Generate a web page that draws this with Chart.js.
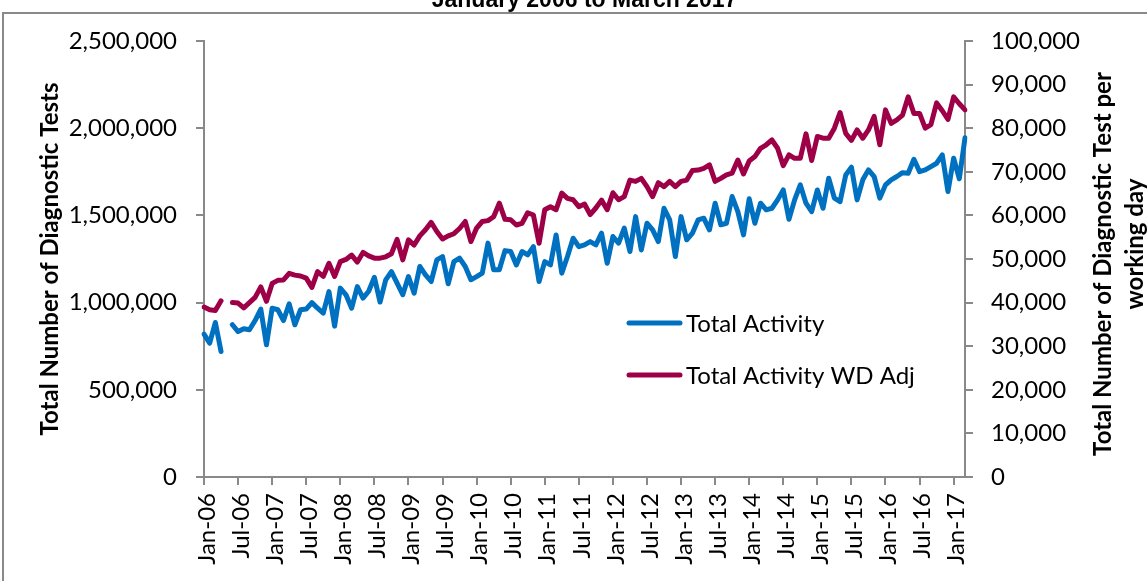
<!DOCTYPE html>
<html>
<head>
<meta charset="utf-8">
<script src="https://cdn.jsdelivr.net/npm/chart.js@4.4.1/dist/chart.umd.min.js"></script>
<style>
  html, body { margin: 0; padding: 0; background: #fff; overflow: hidden; }
  #wrap { position: relative; width: 1147px; height: 581px; }
</style>
</head>
<body>
<div id="wrap"><canvas id="diag" width="1147" height="581"></canvas></div>
<script>
// categories: monthly, Jan-06 .. Mar-17
const monthNames = ['Jan','Feb','Mar','Apr','May','Jun','Jul','Aug','Sep','Oct','Nov','Dec'];
const months = [];
for (let y = 2006; y <= 2017; y++) {
  for (let m = 0; m < 12; m++) {
    if (y === 2017 && m > 2) break;
    months.push(monthNames[m] + '-' + String(y).slice(2));
  }
}

// Total Activity (left axis), May-06 missing
const totalActivity = [
  819000, 768000, 886000, 720000, null, 873000, 834000, 850000, 844000, 897000, 963000, 758000,
  968000, 959000, 897000, 993000, 873000, 959000, 963000, 1000000, 968000, 940000, 1063000, 865000,
  1083000, 1045000, 968000, 1092000, 1026000, 1065000, 1145000, 1003000, 1130000, 1178000, 1112000, 1045000,
  1149000, 1054000, 1207000, 1159000, 1121000, 1245000, 1264000, 1108000, 1235000, 1255000, 1207000, 1131000,
  1149000, 1169000, 1341000, 1188000, 1188000, 1298000, 1293000, 1216000, 1293000, 1274000, 1321000, 1121000,
  1235000, 1216000, 1388000, 1169000, 1264000, 1369000, 1321000, 1331000, 1350000, 1331000, 1398000, 1226000,
  1379000, 1341000, 1427000, 1293000, 1493000, 1302000, 1455000, 1417000, 1350000, 1541000, 1474000, 1264000,
  1493000, 1360000, 1398000, 1474000, 1484000, 1417000, 1570000, 1446000, 1455000, 1608000, 1522000, 1388000,
  1595000, 1455000, 1570000, 1532000, 1541000, 1589000, 1646000, 1478000, 1589000, 1675000, 1570000, 1522000,
  1646000, 1541000, 1713000, 1599000, 1579000, 1732000, 1776000, 1589000, 1704000, 1761000, 1723000, 1599000,
  1675000, 1704000, 1723000, 1745000, 1742000, 1822000, 1751000, 1761000, 1780000, 1799000, 1847000, 1637000,
  1828000, 1710000, 1945000
];

// Total Activity WD Adj (right axis)
const totalActivityWdAdj = [
  38970, 38340, 38180, 40400, null, 40000, 39900, 38800, 40000, 41200, 43600, 40300,
  44400, 45100, 45200, 46700, 46300, 46100, 45600, 43500, 47100, 46000, 49000, 46000,
  49400, 49900, 50900, 49300, 51500, 50700, 50200, 50200, 50500, 51200, 54500, 49800,
  54400, 53200, 55300, 56700, 58400, 56300, 54600, 55300, 55800, 57000, 58600, 54000,
  57100, 58600, 58800, 59700, 62800, 59100, 59000, 57800, 58200, 60600, 60100, 53600,
  61300, 62000, 61300, 65100, 63900, 63600, 62000, 62600, 60200, 61700, 63500, 61300,
  65200, 63600, 64300, 68100, 67800, 68500, 66600, 64300, 67500, 66600, 67800, 66600,
  67800, 68100, 70300, 70400, 70800, 71600, 67800, 68500, 69300, 69700, 72700, 69500,
  72500, 73500, 75400, 76200, 77300, 75400, 71400, 73900, 73100, 73100, 78700, 72600,
  78100, 77700, 77700, 80000, 83600, 78800, 77200, 79600, 77700, 79600, 82700, 76200,
  84200, 81100, 81900, 83000, 87200, 83400, 83400, 80000, 80800, 85800, 84000, 82000,
  87200, 85600, 84200
];

const chartTitle = 'January 2006 to March 2017';
const leftTitle = 'Total Number of Diagnostic Tests';
const rightTitle = ['Total Number of Diagnostic Test per', 'working day'];

const axisGray = '#898989';
const blue = '#0070C0';
const plum = '#9E0048';

Chart.defaults.font.family = 'Lato, "Noto Sans", sans-serif';
Chart.defaults.font.size = 24;
Chart.defaults.color = '#000';

// border, clipped title, right axis title, legend inside plot
const decor = {
  id: 'decor',
  beforeDraw(chart) {
    const c = chart.ctx;
    c.save();
    c.strokeStyle = axisGray;
    c.lineWidth = 2;
    c.strokeRect(3, 13, 3000, 3000);
    c.restore();
  },
  afterDraw(chart) {
    const c = chart.ctx;
    const area = chart.chartArea;
    c.save();
    c.fillStyle = '#000';
    c.font = 'bold 23px "Liberation Sans", Arial, sans-serif';
    c.textAlign = 'center';
    c.textBaseline = 'alphabetic';
    c.fillText(chartTitle, (area.left + area.right) / 2, 7);

    // right axis title, reads bottom to top
    c.font = 'bold 24px Lato, "Noto Sans", sans-serif';
    c.textBaseline = 'middle';
    c.save();
    c.translate(1103, 0);
    c.rotate(-Math.PI / 2);
    c.fillText(rightTitle[0], -264, 0);
    c.fillText(rightTitle[1], -244, 32);
    c.restore();

    const rows = [323, 375];
    chart.data.datasets.forEach((ds, i) => {
      const y = rows[i];
      c.strokeStyle = ds.borderColor;
      c.lineWidth = 5;
      c.lineCap = 'round';
      c.beginPath();
      c.moveTo(629, y);
      c.lineTo(680, y);
      c.stroke();
      c.font = '24px Lato, "Noto Sans", sans-serif';
      c.textAlign = 'left';
      c.fillText(ds.label, 686, y + 1);
    });
    c.restore();
  }
};

new Chart(document.getElementById('diag'), {
  type: 'line',
  data: {
    labels: months,
    datasets: [
      {
        label: 'Total Activity',
        data: totalActivity,
        yAxisID: 'y',
        borderColor: blue,
        backgroundColor: blue,
        borderWidth: 5,
        pointRadius: 0,
        tension: 0,
        spanGaps: false,
        borderJoinStyle: 'round',
        borderCapStyle: 'round'
      },
      {
        label: 'Total Activity WD Adj',
        data: totalActivityWdAdj,
        yAxisID: 'y1',
        borderColor: plum,
        backgroundColor: plum,
        borderWidth: 5,
        pointRadius: 0,
        tension: 0,
        spanGaps: false,
        borderJoinStyle: 'round',
        borderCapStyle: 'round'
      }
    ]
  },
  options: {
    responsive: false,
    animation: false,
    devicePixelRatio: 1,
    layout: { padding: { top: 41, left: 0, right: 0, bottom: 0 } },
    plugins: {
      legend: { display: false },
      tooltip: { enabled: false },
      title: { display: false }
    },
    scales: {
      x: {
        type: 'category',
        offset: false,
        grid: { drawOnChartArea: false, color: axisGray, lineWidth: 2, tickLength: 8, offset: false },
        border: { color: axisGray, width: 2 },
        ticks: { autoSkip: false, minRotation: 90, maxRotation: 90, padding: 8, labelOffset: 3 },
        afterBuildTicks: s => { s.ticks = s.ticks.filter(t => t.value % 6 === 0); },
        afterFit: s => { s.height = 104; }
      },
      y: {
        position: 'left',
        min: 0,
        max: 2500000,
        grid: { drawOnChartArea: false, color: axisGray, lineWidth: 2, tickLength: 8 },
        border: { color: axisGray, width: 2 },
        ticks: { stepSize: 500000, padding: 19, callback: v => v.toLocaleString('en-US') },
        title: { display: true, text: leftTitle, font: { size: 24, weight: 'bold' }, padding: { top: 36, bottom: 0 } },
        afterFit: s => { s.width = 204; }
      },
      y1: {
        position: 'right',
        min: 0,
        max: 100000,
        grid: { drawOnChartArea: false, color: axisGray, lineWidth: 2, tickLength: 8 },
        border: { color: axisGray, width: 2 },
        ticks: { stepSize: 10000, padding: 18, callback: v => v.toLocaleString('en-US') },
        afterFit: s => { s.width = 182; }
      }
    }
  },
  plugins: [decor]
});
</script>
</body>
</html>
